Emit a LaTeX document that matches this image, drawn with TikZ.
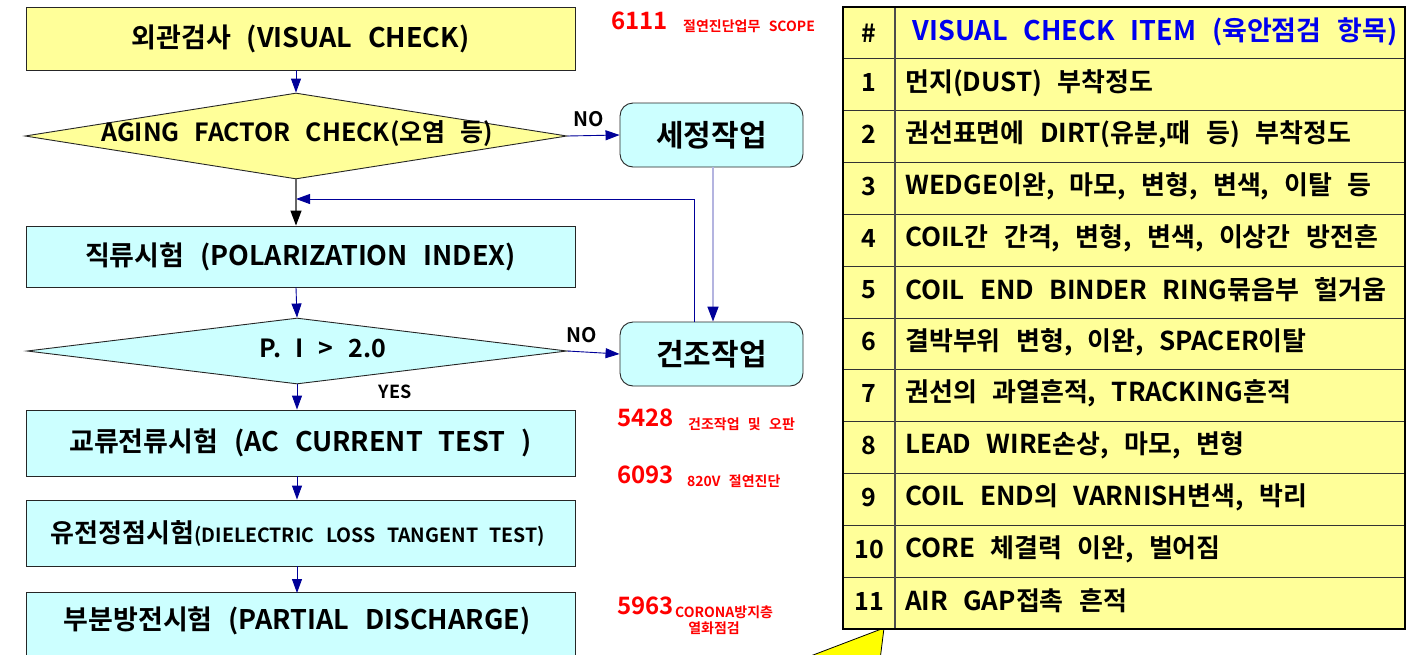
\documentclass[tikz,border=0pt]{standalone}
\usepackage{fontspec}
\setmainfont{Noto Sans CJK KR}[BoldFont={Noto Sans CJK KR Bold}, WordSpace=2.6]
\usetikzlibrary{shapes.geometric,arrows.meta}
\definecolor{paleyellow}{HTML}{FFFF99}
\definecolor{palecyan}{HTML}{CCFFFF}
\definecolor{flowblue}{HTML}{000099}
\definecolor{lavender}{HTML}{B4B4E0}
\definecolor{calloutyellow}{HTML}{FFFF00}
\newcommand{\fs}[1]{\fontsize{#1}{#1}\selectfont\bfseries}
\tikzset{
  stepbox/.style={draw=black!85, line width=0.9pt, minimum width=549pt, inner sep=0pt, font=\fs{27}},
  decide/.style={diamond, draw=black!85, line width=0.9pt, inner sep=0pt, aspect=6},
  workbox/.style={draw=black!85, line width=0.9pt, fill=palecyan, rounded corners=13pt,
    minimum width=183pt, minimum height=64pt, inner sep=0pt, font=\fs{30}},
  flow/.style={draw=flowblue, line width=0.9pt, -{Triangle[length=14pt,width=10pt]}},
  lavflow/.style={draw=lavender, line width=1.6pt, -{Triangle[length=15pt,width=11pt,color=flowblue]}},
  backflow/.style={draw=flowblue, line width=0.9pt, -{Triangle[length=14pt,width=10pt]}},
  greyflow/.style={draw=black!60, line width=1.2pt, -{Triangle[length=15pt,width=11pt,color=black]}},
  tag/.style={font=\fs{20}, inner sep=0pt},
  codenum/.style={text=red, font=\fs{24}, inner sep=0pt, anchor=west},
  codetxt/.style={text=red, font=\fs{14}, inner sep=0pt, anchor=west},
  numcell/.style={font=\fs{25}, inner sep=0pt},
  itemcell/.style={font=\fs{26}, inner sep=0pt, anchor=west},
}
\begin{document}
\begin{tikzpicture}[x=1pt,y=-1pt]
\path[use as bounding box, clip] (0,0) rectangle (1420,654);
\fill[white] (0,0) rectangle (1420,654);

% ---- flow chart boxes ----
\node[stepbox, fill=paleyellow, minimum height=63pt] (visual) at (300.5,38.5) {외관검사 (VISUAL CHECK)};
\node[decide, fill=paleyellow, minimum width=542pt, minimum height=86pt] (aging) at (296,136) {};
\node[font=\fs{25}, inner sep=0pt] (agingtxt) at (297,134) {AGING FACTOR CHECK(오염 등)};
\node[workbox] (clean) at (711.5,135) {세정작업};

\node[stepbox, fill=palecyan, minimum height=61pt] (pi) at (300.5,256.5) {직류시험 (POLARIZATION INDEX)};
\node[decide, fill=palecyan, minimum width=540pt, minimum height=66pt] (picheck) at (297,351) {};
\node[font=\fs{25}, inner sep=0pt] (pitxt) at (323,348) {P. I > 2.0};
\node[workbox] (dry) at (711.5,354) {건조작업};

\node[stepbox, fill=palecyan, minimum height=66pt] (ac) at (300.5,443) {교류전류시험 (AC CURRENT TEST )};
\node[stepbox, fill=palecyan, minimum height=66pt] (tan) at (300.5,533) {};
\node[inner sep=0pt] (tantxt) at (298,533)
  {\fs{26}유전정점시험\fontsize{19.5}{19.5}\selectfont(DIELECTRIC LOSS TANGENT TEST)};
\node[stepbox, fill=palecyan, minimum height=110pt, anchor=north] (pd) at (300.5,592) {};
\node[font=\fs{27}, inner sep=0pt] (pdtxt) at (297,621) {부분방전시험 (PARTIAL DISCHARGE)};

% ---- connectors ----
\coordinate (join) at (296,199);
\draw[flow] (visual.south -| aging.north) -- (aging.north);
\draw[flow] (aging.east) -- (clean.west) node[tag, midway, above=8pt, xshift=-5pt] (no1) {NO};
\draw[lavflow] ([xshift=1.5pt]clean.south) -- ([xshift=1.5pt]dry.north);
\draw[backflow] ([xshift=-17.5pt]dry.north) |- (join);
\draw[greyflow] (aging.south) -- (aging.south |- pi.north);
\draw[flow] (aging.south |- pi.south) -- (picheck.north);
\draw[flow] (picheck.east) -- (dry.west) node[tag, midway, above=9pt, xshift=-12pt] (no2) {NO};
\node[tag, font=\fs{18}] (yes) at (395,392) {YES};
\draw[flow] (picheck.south) -- (picheck.south |- ac.north);
\draw[flow] (picheck.south |- ac.south) -- (picheck.south |- tan.north);
\draw[flow] (picheck.south |- tan.south) -- ([yshift=-1pt]picheck.south |- pd.north);

% ---- red reference codes ----
\node[codenum] (c6111) at (611,21) {6111};
\node[codetxt] (t6111) at (683,26) {절연진단업무  SCOPE};
\node[codenum] (c5428) at (617,418) {5428};
\node[codetxt] (t5428) at (688,424) {건조작업  및  오판};
\node[codenum] (c6093) at (617,475) {6093};
\node[codetxt] (t6093) at (687,481) {820V  절연진단};
\node[codenum] (c5963) at (617,606) {5963};
\node[codetxt] (t5963) at (675,612) {CORONA방지층};
\node[text=red, font=\fs{14}, inner sep=0pt] (t5963b) at (714,628) {열화점검};

% ---- callout pointer ----
\draw[fill=calloutyellow, draw=black, line width=0.8pt] (884,628) -- (880,660) -- (800,660) -- cycle;

% ---- check item table ----
\fill[paleyellow] (843,7) rectangle (1405,629);
\foreach \r in {1,...,11}
  \draw[black!80, line width=0.9pt] (843,{7+51.83*\r}) -- (1405,{7+51.83*\r});
\draw[black!70, line width=1.2pt] (895,7) -- (895,629);
\draw[black, line width=1.3pt] (843,7) rectangle (1405,629);

\node[numcell] (hnum) at (869,33) {\#};
\node[font=\fs{27}, text={rgb,255:red,0;green,0;blue,238}, inner sep=0pt] (hitem) at (1155,32)
  {VISUAL  CHECK  ITEM  (육안점검  항목)};
\foreach \n/\t in {
  1/{먼지(DUST) 부착정도},
  2/{권선표면에 DIRT(유분,때 등) 부착정도},
  3/{WEDGE이완, 마모, 변형, 변색, 이탈 등},
  4/{COIL간 간격, 변형, 변색, 이상간 방전흔},
  5/{COIL END BINDER RING묶음부 헐거움},
  6/{결박부위 변형, 이완, SPACER이탈},
  7/{권선의 과열흔적, TRACKING흔적},
  8/{LEAD WIRE손상, 마모, 변형},
  9/{COIL END의 VARNISH변색, 박리},
  10/{CORE 체결력 이완, 벌어짐},
  11/{AIR GAP접촉 흔적}}
{
  \node[numcell] (num\n) at (869,{7+51.83*(\n+0.5)-2}) {\n};
  \node[itemcell] (item\n) at (905,{7+51.83*(\n+0.5)-2}) {\t};
}
\end{tikzpicture}
\end{document}
